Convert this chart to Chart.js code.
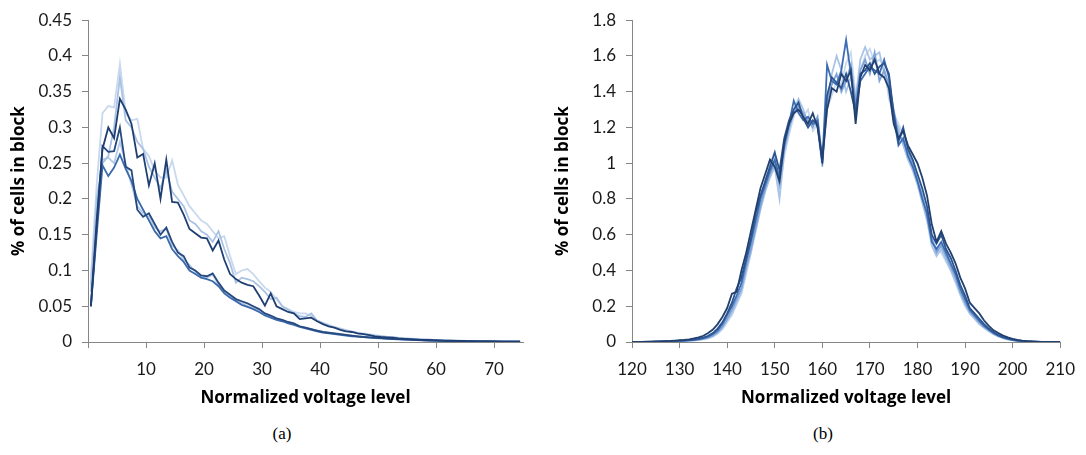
<!DOCTYPE html>
<html>
<head>
<meta charset="utf-8">
<script src="https://cdn.jsdelivr.net/npm/chart.js@4.4.1/dist/chart.umd.min.js"></script>
<style>
  body { margin: 0; background: #fff; width: 1086px; height: 455px; position: relative; overflow: hidden; }
  .box { position: absolute; top: 0; height: 420px; }
  .cap { position: absolute; top: 424px; font: 17px "Liberation Serif", "Times New Roman", serif; color: #000; transform: translateX(-50%); }
</style>
</head>
<body>
<div class="box" style="left:0;width:544px"><canvas id="chartA"></canvas></div>
<div class="box" style="left:544px;width:542px"><canvas id="chartB"></canvas></div>
<div class="cap" style="left:282px">(a)</div>
<div class="cap" style="left:823px">(b)</div>

<script>
// tick labels
const yTicksA = [0, 0.05, 0.1, 0.15, 0.2, 0.25, 0.3, 0.35, 0.4, 0.45];
const xTicksA = [0, 10, 20, 30, 40, 50, 60, 70];
const yTicksB = [0, 0.2, 0.4, 0.6, 0.8, 1, 1.2, 1.4, 1.6, 1.8];
const xTicksB = [120, 130, 140, 150, 160, 170, 180, 190, 200, 210];

// (a) voltage levels 0.5 .. 74.5, (b) voltage levels 120 .. 210
const levelsA = [];
for (let k = 0; k < 75; k++) levelsA.push(k + 0.5);
const levelsB = [];
for (let v = 120; v <= 210; v++) levelsB.push(v);

// (a) series, % of cells
const seriesA1 = [0.05, 0.17, 0.27, 0.30, 0.285, 0.34, 0.325, 0.305, 0.258, 0.263,
  0.219, 0.25, 0.20, 0.255, 0.196, 0.195, 0.178, 0.158, 0.152, 0.146,
  0.145, 0.128, 0.142, 0.115, 0.095, 0.088, 0.083, 0.08, 0.078, 0.065,
  0.051, 0.068, 0.05, 0.046, 0.042, 0.04, 0.032, 0.033, 0.034, 0.029,
  0.025, 0.022, 0.02, 0.017, 0.015, 0.014, 0.012, 0.011, 0.0095, 0.008,
  0.007, 0.0065, 0.006, 0.005, 0.0045, 0.004, 0.0035, 0.003, 0.0028, 0.0025,
  0.0022, 0.002, 0.0018, 0.0016, 0.0014, 0.0012, 0.0011, 0.001, 0.0009, 0.0008,
  0.0007, 0.0006, 0.0005, 0.0005, 0.0004];
const seriesA2 = [0.05, 0.16, 0.274, 0.266, 0.267, 0.30, 0.245, 0.24, 0.185, 0.175,
  0.18, 0.165, 0.15, 0.16, 0.14, 0.125, 0.12, 0.104, 0.1, 0.093,
  0.092, 0.096, 0.083, 0.072, 0.066, 0.06, 0.057, 0.054, 0.05, 0.046,
  0.04, 0.037, 0.033, 0.031, 0.028, 0.026, 0.022, 0.02, 0.018, 0.016,
  0.014, 0.013, 0.012, 0.011, 0.01, 0.009, 0.008, 0.007, 0.0065, 0.006,
  0.0055, 0.005, 0.0045, 0.004, 0.0036, 0.0032, 0.0029, 0.0026, 0.0023, 0.002,
  0.0018, 0.0016, 0.0014, 0.0013, 0.0012, 0.001, 0.0009, 0.0008, 0.0007, 0.0007,
  0.0006, 0.0005, 0.0005, 0.0004, 0.0004];
const seriesA3 = [0.05, 0.15, 0.247, 0.232, 0.244, 0.262, 0.242, 0.225, 0.2, 0.185,
  0.17, 0.155, 0.145, 0.148, 0.13, 0.12, 0.112, 0.1, 0.095, 0.09,
  0.088, 0.085, 0.078, 0.068, 0.062, 0.057, 0.052, 0.049, 0.046, 0.042,
  0.037, 0.034, 0.031, 0.029, 0.026, 0.024, 0.021, 0.019, 0.017, 0.015,
  0.013, 0.012, 0.011, 0.01, 0.009, 0.008, 0.0075, 0.007, 0.006, 0.0055,
  0.005, 0.0045, 0.004, 0.0037, 0.0033, 0.003, 0.0027, 0.0024, 0.0021, 0.0019,
  0.0017, 0.0015, 0.0013, 0.0012, 0.0011, 0.001, 0.0009, 0.0008, 0.0007, 0.0006,
  0.0006, 0.0005, 0.0005, 0.0004, 0.0004];
const seriesA4 = [0.07, 0.2, 0.25, 0.26, 0.30, 0.37, 0.31, 0.30, 0.28, 0.27,
  0.245, 0.23, 0.215, 0.24, 0.21, 0.2, 0.19, 0.17, 0.165, 0.155,
  0.15, 0.14, 0.155, 0.13, 0.11, 0.083, 0.09, 0.088, 0.085, 0.078,
  0.07, 0.06, 0.062, 0.05, 0.045, 0.04, 0.036, 0.035, 0.04, 0.03,
  0.026, 0.023, 0.02, 0.018, 0.016, 0.014, 0.012, 0.011, 0.01, 0.009,
  0.008, 0.007, 0.0065, 0.0058, 0.005, 0.0045, 0.004, 0.0036, 0.0032, 0.0028,
  0.0025, 0.0022, 0.002, 0.0018, 0.0016, 0.0014, 0.0013, 0.0011, 0.001, 0.0009,
  0.0008, 0.0007, 0.0006, 0.0005, 0.0005];
const seriesA5 = [0.08, 0.19, 0.255, 0.258, 0.25, 0.28, 0.25, 0.22, 0.19, 0.18,
  0.175, 0.16, 0.155, 0.158, 0.135, 0.128, 0.115, 0.108, 0.098, 0.09,
  0.09, 0.094, 0.08, 0.07, 0.064, 0.058, 0.055, 0.05, 0.048, 0.044,
  0.038, 0.035, 0.032, 0.03, 0.027, 0.025, 0.022, 0.02, 0.018, 0.016,
  0.014, 0.013, 0.012, 0.011, 0.01, 0.009, 0.008, 0.0075, 0.007, 0.006,
  0.0055, 0.005, 0.0045, 0.004, 0.0036, 0.0032, 0.0029, 0.0026, 0.0023, 0.002,
  0.0018, 0.0016, 0.0014, 0.0013, 0.0012, 0.001, 0.0009, 0.0008, 0.0007, 0.0007,
  0.0006, 0.0005, 0.0005, 0.0004, 0.0004];
const seriesA6 = [0.09, 0.22, 0.32, 0.33, 0.328, 0.389, 0.32, 0.31, 0.312, 0.27,
  0.26, 0.24, 0.23, 0.23, 0.254, 0.22, 0.205, 0.19, 0.18, 0.17,
  0.165, 0.155, 0.145, 0.148, 0.12, 0.095, 0.1, 0.102, 0.095, 0.085,
  0.076, 0.07, 0.06, 0.05, 0.046, 0.042, 0.04, 0.04, 0.036, 0.03,
  0.027, 0.024, 0.021, 0.019, 0.017, 0.015, 0.013, 0.012, 0.011, 0.0095,
  0.0085, 0.0075, 0.007, 0.006, 0.0055, 0.005, 0.0045, 0.004, 0.0036, 0.0032,
  0.003, 0.0027, 0.0024, 0.0021, 0.0019, 0.0017, 0.0015, 0.0013, 0.0012, 0.001,
  0.0009, 0.0008, 0.0007, 0.0006, 0.0005];

// (b) series, % of cells
const seriesB1 = [0, 0.001, 0.001, 0.002, 0.002, 0.003, 0.004, 0.005, 0.006, 0.008,
  0.01, 0.012, 0.015, 0.02, 0.026, 0.035, 0.05, 0.07, 0.1, 0.14,
  0.19, 0.27, 0.28, 0.40, 0.50, 0.62, 0.74, 0.86, 0.94, 1.02,
  0.98, 0.90, 1.12, 1.22, 1.28, 1.30, 1.26, 1.22, 1.28, 1.20,
  1.02, 1.30, 1.42, 1.40, 1.50, 1.46, 1.52, 1.22, 1.48, 1.55,
  1.52, 1.58, 1.50, 1.48, 1.42, 1.22, 1.14, 1.18, 1.10, 1.05,
  1.00, 0.92, 0.82, 0.66, 0.56, 0.62, 0.55, 0.50, 0.44, 0.36,
  0.30, 0.22, 0.19, 0.16, 0.12, 0.09, 0.065, 0.05, 0.036, 0.026,
  0.018, 0.012, 0.008, 0.005, 0.003, 0.002, 0.001, 0.001, 0, 0, 0];
const seriesB2 = [0, 0, 0.001, 0.001, 0.002, 0.002, 0.003, 0.004, 0.005, 0.006,
  0.007, 0.009, 0.011, 0.014, 0.018, 0.025, 0.035, 0.05, 0.075, 0.11,
  0.16, 0.22, 0.30, 0.36, 0.47, 0.58, 0.72, 0.82, 0.90, 0.98,
  1.06, 0.96, 1.14, 1.24, 1.30, 1.34, 1.25, 1.20, 1.24, 1.22,
  1.00, 1.38, 1.48, 1.45, 1.42, 1.50, 1.40, 1.28, 1.50, 1.52,
  1.56, 1.50, 1.54, 1.56, 1.50, 1.28, 1.12, 1.20, 1.08, 1.02,
  0.94, 0.86, 0.76, 0.60, 0.55, 0.60, 0.52, 0.47, 0.40, 0.32,
  0.26, 0.19, 0.16, 0.13, 0.10, 0.075, 0.055, 0.04, 0.028, 0.02,
  0.014, 0.009, 0.006, 0.004, 0.003, 0.002, 0.001, 0, 0, 0, 0];
const seriesB3 = [0, 0, 0, 0.001, 0.001, 0.002, 0.002, 0.003, 0.004, 0.005,
  0.006, 0.008, 0.01, 0.012, 0.016, 0.022, 0.03, 0.045, 0.065, 0.1,
  0.15, 0.2, 0.26, 0.33, 0.45, 0.56, 0.68, 0.80, 0.88, 0.96,
  1.02, 0.92, 1.10, 1.22, 1.35, 1.28, 1.24, 1.26, 1.22, 1.24,
  1.00, 1.55, 1.46, 1.44, 1.52, 1.69, 1.50, 1.30, 1.46, 1.50,
  1.54, 1.52, 1.50, 1.58, 1.48, 1.26, 1.10, 1.14, 1.04, 0.98,
  0.90, 0.80, 0.72, 0.56, 0.52, 0.56, 0.50, 0.44, 0.38, 0.30,
  0.24, 0.18, 0.15, 0.12, 0.09, 0.07, 0.05, 0.036, 0.025, 0.018,
  0.012, 0.008, 0.005, 0.003, 0.002, 0.001, 0.001, 0, 0, 0, 0];
const seriesB4 = [0, 0, 0, 0, 0.001, 0.001, 0.002, 0.002, 0.003, 0.004,
  0.005, 0.006, 0.008, 0.01, 0.013, 0.018, 0.025, 0.036, 0.055, 0.085,
  0.13, 0.18, 0.24, 0.30, 0.42, 0.52, 0.64, 0.76, 0.86, 0.94,
  1.00, 0.88, 1.08, 1.20, 1.28, 1.32, 1.28, 1.24, 1.20, 1.26,
  1.02, 1.36, 1.44, 1.50, 1.40, 1.46, 1.55, 1.34, 1.52, 1.58,
  1.50, 1.62, 1.46, 1.52, 1.44, 1.30, 1.16, 1.12, 1.06, 1.00,
  0.90, 0.82, 0.70, 0.58, 0.50, 0.54, 0.48, 0.42, 0.36, 0.28,
  0.22, 0.17, 0.14, 0.11, 0.085, 0.065, 0.048, 0.034, 0.024, 0.016,
  0.011, 0.007, 0.005, 0.003, 0.002, 0.001, 0, 0, 0, 0, 0];
const seriesB5 = [0, 0, 0, 0, 0.001, 0.001, 0.001, 0.002, 0.003, 0.003,
  0.004, 0.005, 0.007, 0.009, 0.012, 0.016, 0.022, 0.032, 0.05, 0.078,
  0.12, 0.16, 0.22, 0.28, 0.40, 0.50, 0.62, 0.74, 0.84, 0.92,
  0.98, 0.80, 1.06, 1.18, 1.30, 1.36, 1.30, 1.22, 1.24, 1.20,
  0.98, 1.32, 1.50, 1.60, 1.52, 1.40, 1.48, 1.36, 1.58, 1.65,
  1.58, 1.60, 1.62, 1.50, 1.40, 1.24, 1.20, 1.10, 1.02, 0.96,
  0.88, 0.78, 0.68, 0.54, 0.48, 0.52, 0.46, 0.40, 0.34, 0.27,
  0.21, 0.16, 0.13, 0.10, 0.08, 0.06, 0.044, 0.032, 0.022, 0.015,
  0.01, 0.007, 0.004, 0.003, 0.002, 0.001, 0, 0, 0, 0, 0];
const seriesB6 = [0, 0, 0, 0, 0, 0.001, 0.001, 0.002, 0.002, 0.003,
  0.004, 0.005, 0.006, 0.008, 0.011, 0.015, 0.02, 0.03, 0.046, 0.07,
  0.11, 0.15, 0.21, 0.27, 0.38, 0.50, 0.66, 0.80, 0.90, 1.00,
  1.06, 0.84, 1.04, 1.16, 1.26, 1.34, 1.26, 1.30, 1.18, 1.22,
  1.04, 1.30, 1.38, 1.46, 1.44, 1.56, 1.62, 1.38, 1.52, 1.60,
  1.64, 1.56, 1.58, 1.54, 1.36, 1.28, 1.22, 1.16, 1.08, 1.00,
  0.92, 0.84, 0.72, 0.60, 0.52, 0.50, 0.45, 0.40, 0.33, 0.26,
  0.20, 0.16, 0.13, 0.10, 0.08, 0.06, 0.043, 0.03, 0.021, 0.014,
  0.009, 0.006, 0.004, 0.002, 0.001, 0.001, 0, 0, 0, 0, 0];

// line colours (first dataset is drawn on top)
const coloursA = ["#1f3f73", "#26497f", "#3a6aab", "#a9c2e4", "#b6cbe8", "#c8d8ee"];
const coloursB = ["#22406f", "#2c5590", "#3c6db2", "#7ea3d6", "#aac4e8", "#c8d9ef"];

const axisGrey = "#868686";
const tickFont = { family: "Lato, 'Open Sans', sans-serif", size: 17 };
const titleFont = { family: "'Open Sans', Lato, sans-serif", size: 17, weight: "bold" };

function makeDatasets(levels, seriesList, colours) {
  return seriesList.map((s, i) => ({
    data: s.map((v, j) => ({ x: levels[j], y: v })),
    borderColor: colours[i],
    borderWidth: 1.8,
    pointRadius: 0,
    tension: 0,
    fill: false,
  }));
}

function fmt(v) {
  return String(+Number(v).toFixed(2));
}

function makeChart(id, datasets, xMin, xMax, xTicks, yTicks, hideZero, padRight) {
  const ctx = document.getElementById(id);
  if (!ctx) return;
  return new Chart(ctx, {
    type: "line",
    data: { datasets: datasets },
    options: {
      responsive: true,
      maintainAspectRatio: false,
      animation: false,
      layout: { padding: { top: 16, right: padRight, left: 0, bottom: 0 } },
      plugins: { legend: { display: false }, tooltip: { enabled: false } },
      scales: {
        x: {
          type: "linear",
          min: xMin,
          max: xMax,
          afterBuildTicks: (scale) => { scale.ticks = xTicks.map((v) => ({ value: v })); },
          afterFit: (scale) => { scale.height = 78; },
          grid: { display: true, drawOnChartArea: false, drawTicks: true, tickLength: 6, color: axisGrey },
          border: { color: axisGrey, width: 1 },
          ticks: {
            color: "#1a1a1a",
            font: tickFont,
            padding: 11,
            maxRotation: 0,
            autoSkip: false,
            callback: (v) => (hideZero && v === 0 ? "" : fmt(v)),
          },
          title: { display: true, text: "Normalized voltage level", color: "#000", font: titleFont, padding: { top: 0, bottom: 12 } },
        },
        y: {
          min: yTicks[0],
          max: yTicks[yTicks.length - 1],
          afterBuildTicks: (scale) => { scale.ticks = yTicks.map((v) => ({ value: v })); },
          afterFit: (scale) => { scale.width = 88; },
          grid: { display: true, drawOnChartArea: false, drawTicks: true, tickLength: 6, color: axisGrey },
          border: { color: axisGrey, width: 1 },
          ticks: { color: "#1a1a1a", font: tickFont, padding: 10, callback: (v) => fmt(v) },
          title: { display: true, text: "% of cells in block", color: "#000", font: titleFont, padding: { top: 9, bottom: 0 } },
        },
      },
    },
  });
}

makeChart("chartA", makeDatasets(levelsA, [seriesA1, seriesA2, seriesA3, seriesA4, seriesA5, seriesA6], coloursA),
  0, 75, xTicksA, yTicksA, true, 21);
makeChart("chartB", makeDatasets(levelsB, [seriesB1, seriesB2, seriesB3, seriesB4, seriesB5, seriesB6], coloursB),
  120, 210, xTicksB, yTicksB, false, 19);
</script>
</body>
</html>
